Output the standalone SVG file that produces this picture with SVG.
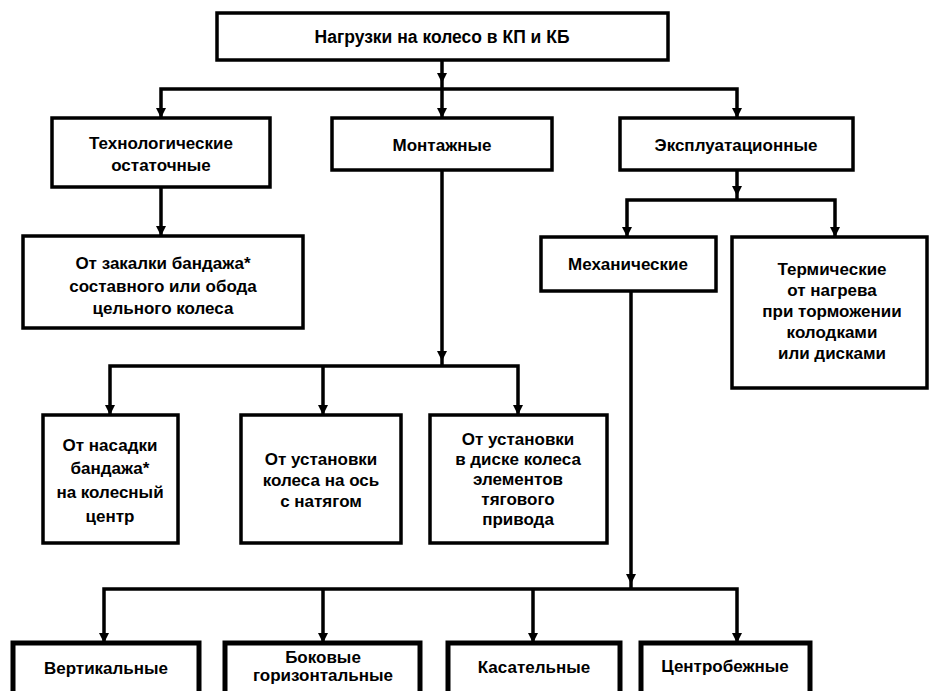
<svg xmlns="http://www.w3.org/2000/svg" width="930" height="691" viewBox="0 0 930 691">
<style>
  .box { fill: #ffffff; stroke: #000000; stroke-width: 3.5; }
  .boxb { fill: #ffffff; stroke: #000000; stroke-width: 5; }
  .ln { fill: none; stroke: #000000; stroke-width: 3.5; }
  .t { font-family: "Liberation Sans", Arial, sans-serif; font-size: 17px; font-weight: bold; text-anchor: middle; dominant-baseline: central; fill: #000000; }
  .big { font-size: 17.5px; }
</style>
<defs>
  <marker id="arr" viewBox="0 0 10 10" refX="10" refY="5" markerWidth="11" markerHeight="10" markerUnits="userSpaceOnUse" orient="auto-start-reverse">
    <path d="M0,0 L10,5 L0,10 z" fill="#000000"/>
  </marker>
</defs>
<rect width="930" height="691" fill="#ffffff"/>

<g id="connectors">
  <path class="ln" d="M442,60 V83" marker-end="url(#arr)"/>
  <path class="ln" d="M442,83 V118" marker-end="url(#arr)"/>
  <path class="ln" d="M161,118 V89 H737 V118" marker-start="url(#arr)" marker-end="url(#arr)"/>
  <path class="ln" d="M161,187 V236" marker-end="url(#arr)"/>
  <path class="ln" d="M737,170 V196" marker-end="url(#arr)"/>
  <path class="ln" d="M737,196 V200"/>
  <path class="ln" d="M627,237 V200 H835 V237" marker-start="url(#arr)" marker-end="url(#arr)"/>
  <path class="ln" d="M442,170 V361" marker-end="url(#arr)"/>
  <path class="ln" d="M442,361 V366"/>
  <path class="ln" d="M110,415 V366 H518 V415" marker-start="url(#arr)" marker-end="url(#arr)"/>
  <path class="ln" d="M323,366 V415" marker-end="url(#arr)"/>
  <path class="ln" d="M631,291 V584" marker-end="url(#arr)"/>
  <path class="ln" d="M631,584 V589"/>
  <path class="ln" d="M104,643 V589 H737 V643" marker-start="url(#arr)" marker-end="url(#arr)"/>
  <path class="ln" d="M323,589 V643" marker-end="url(#arr)"/>
  <path class="ln" d="M533,589 V643" marker-end="url(#arr)"/>
</g>

<g id="root">
  <rect class="box" x="217" y="13" width="451" height="47"/>
  <text class="t big" x="442" y="37">Нагрузки на колесо в КП и КБ</text>
</g>

<g id="tech">
  <rect class="box" x="52" y="118" width="218" height="69"/>
  <text class="t" x="161" y="143">Технологические</text>
  <text class="t" x="161" y="165">остаточные</text>
</g>

<g id="mont">
  <rect class="box" x="332" y="118" width="220" height="52"/>
  <text class="t" x="442" y="145">Монтажные</text>
</g>

<g id="expl">
  <rect class="box" x="620" y="118" width="233" height="52"/>
  <text class="t" x="736" y="145">Эксплуатационные</text>
</g>

<g id="zakalka">
  <rect class="box" x="23" y="236" width="280" height="92"/>
  <text class="t" x="163" y="263">От закалки бандажа*</text>
  <text class="t" x="163" y="286">составного или обода</text>
  <text class="t" x="163" y="308">цельного колеса</text>
</g>

<g id="mech">
  <rect class="box" x="541" y="237" width="175" height="54"/>
  <text class="t" x="628" y="264">Механические</text>
</g>

<g id="therm">
  <rect class="box" x="732" y="237" width="195" height="151"/>
  <text class="t" x="832" y="269">Термические</text>
  <text class="t" x="832" y="290">от нагрева</text>
  <text class="t" x="832" y="311">при торможении</text>
  <text class="t" x="832" y="332">колодками</text>
  <text class="t" x="832" y="353">или дисками</text>
</g>

<g id="nasadka">
  <rect class="box" x="43" y="415" width="135" height="128"/>
  <text class="t" x="110" y="445">От насадки</text>
  <text class="t" x="110" y="468">бандажа*</text>
  <text class="t" x="110" y="492">на колесный</text>
  <text class="t" x="110" y="516">центр</text>
</g>

<g id="ustanovka-os">
  <rect class="box" x="241" y="415" width="160" height="128"/>
  <text class="t" x="321" y="459">От установки</text>
  <text class="t" x="321" y="480">колеса на ось</text>
  <text class="t" x="321" y="501">с натягом</text>
</g>

<g id="ustanovka-disk">
  <rect class="box" x="430" y="415" width="177" height="128"/>
  <text class="t" x="518" y="439">От установки</text>
  <text class="t" x="518" y="459">в диске колеса</text>
  <text class="t" x="518" y="479">элементов</text>
  <text class="t" x="518" y="499">тягового</text>
  <text class="t" x="518" y="519">привода</text>
</g>

<g id="vert">
  <rect class="boxb" x="13" y="643" width="186" height="80"/>
  <text class="t" x="106" y="668">Вертикальные</text>
</g>

<g id="bok">
  <rect class="boxb" x="225" y="643" width="195" height="80"/>
  <text class="t" x="323" y="657">Боковые</text>
  <text class="t" x="323" y="675">горизонтальные</text>
</g>

<g id="kas">
  <rect class="boxb" x="448" y="643" width="172" height="80"/>
  <text class="t" x="534" y="667">Касательные</text>
</g>

<g id="centr">
  <rect class="boxb" x="641" y="643" width="169" height="80"/>
  <text class="t" x="725" y="666">Центробежные</text>
</g>
</svg>
